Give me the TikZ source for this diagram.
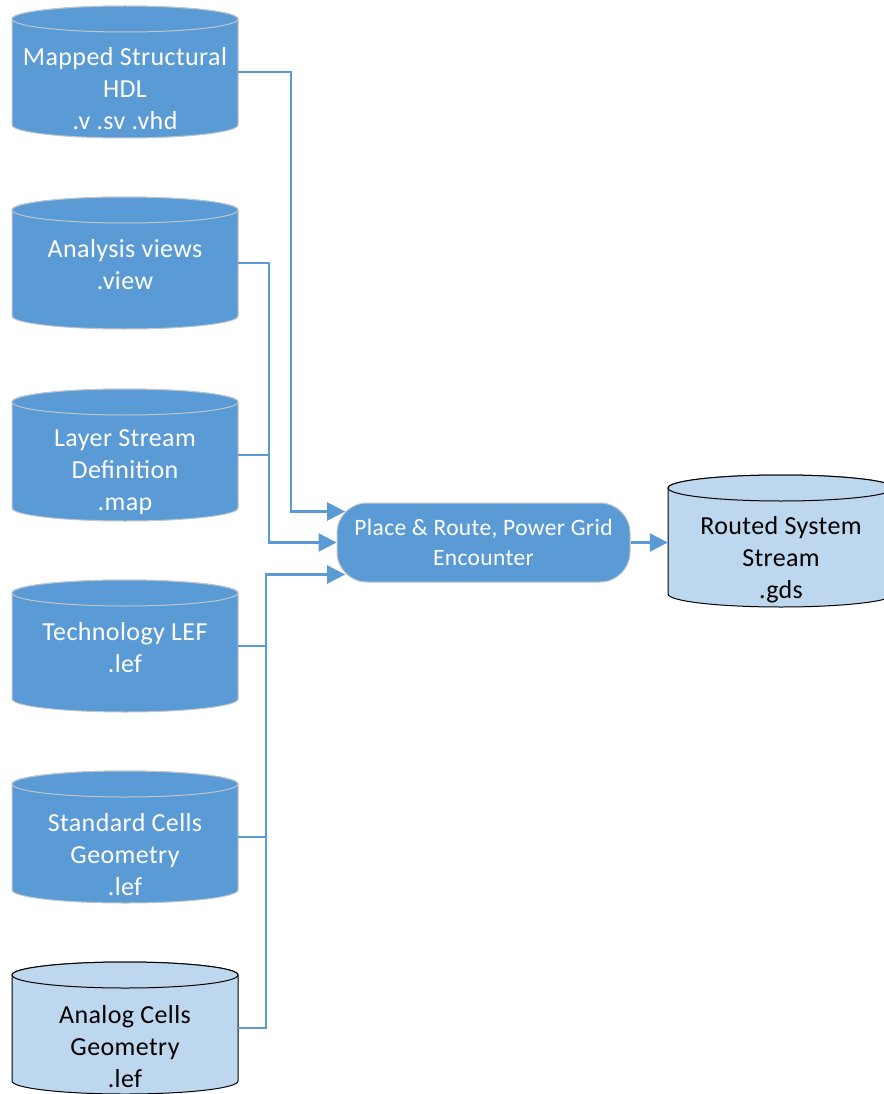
\documentclass[tikz,border=0pt]{standalone}
\usepackage{fontspec}
\setmainfont{Carlito}[LetterSpace=1.5]
\usetikzlibrary{arrows.meta}
\definecolor{obl}{HTML}{5B9BD5}
\definecolor{lbl}{HTML}{BDD7EE}
\definecolor{gbd}{HTML}{BFC5CC}
\newcommand\dbcyl[7]{%
  \path[#4] (#2,-#3-13) -- (#2,-#3-119)
     arc[start angle=180,end angle=360,x radius=113pt,y radius=13pt]
     -- (#2+226,-#3-13)
     arc[start angle=0,end angle=180,x radius=113pt,y radius=13pt] -- cycle;
  \path[#4] (#2+113,-#3-13) ellipse[x radius=113pt,y radius=13pt];
  \node[cylanchor] (#1) at (#2+113,-#3-66) {};
  \node[#5] (#1t) at (#2+113,-#3-#6) {#7};
}
\tikzset{
  darkcyl/.style={fill=obl, draw=gbd, line width=1pt},
  lightcyl/.style={fill=lbl, draw=black, line width=1pt},
  cylanchor/.style={minimum width=226pt, minimum height=132pt, inner sep=0pt, draw=none},
  dtext/.style={text=white, font=\fontsize{26}{32}\selectfont, align=center, inner sep=0pt},
  ltext/.style={text=black, font=\fontsize{26}{32}\selectfont, align=center, inner sep=0pt},
  procbox/.style={fill=obl, draw=gbd, line width=1pt, rounded corners=30pt,
    minimum width=293pt, minimum height=79pt, text=white, align=center,
    font=\fontsize{23.5}{30}\selectfont},
  conn/.style={draw=obl, line width=2.5pt},
  arr/.style={conn, -{Triangle[length=18pt,width=18pt]}}
}
\begin{document}
\begin{tikzpicture}[x=1pt,y=1pt]
\useasboundingbox (0,0) rectangle (883,-1094);
\dbcyl{c1}{12}{6}{darkcyl}{dtext}{83}{Mapped Structural\\HDL\\.v .sv .vhd}
\dbcyl{c2}{12}{197}{darkcyl}{dtext}{68}{Analysis views\\.view}
\dbcyl{c3}{12}{389}{darkcyl}{dtext}{83}{Layer Stream\\Definition\\.map}
\dbcyl{c4}{12}{580}{darkcyl}{dtext}{68}{Technology LEF\\.lef}
\dbcyl{c5}{12}{771}{darkcyl}{dtext}{84}{Standard Cells\\Geometry\\.lef}
\dbcyl{c6}{12}{962}{lightcyl}{ltext}{85}{Analog Cells\\Geometry\\.lef}
\dbcyl{rc}{668}{475}{lightcyl}{ltext}{85}{Routed System\\Stream\\.gds}
\node[procbox] (pr) at (483.5,-542.5) {Place \& Route, Power Grid\\Encounter};
\draw[arr] (c1.east) -- ++(53,0) |- ([xshift=8.6pt,yshift=31pt]pr.west);
\draw[arr] (c2.east) -- ++(31,0) |- (pr.west);
\draw[conn] (c3.east) -- ++(31,0);
\draw[conn] (c4.east) -- ++(28,0);
\draw[conn] (c5.east) -- ++(28,0);
\draw[arr] (c6.east) -- ++(28,0) |- ([xshift=8.6pt,yshift=-32pt]pr.west);
\draw[arr] (pr.east) -- (pr.east -| rc.west);
\end{tikzpicture}
\end{document}
